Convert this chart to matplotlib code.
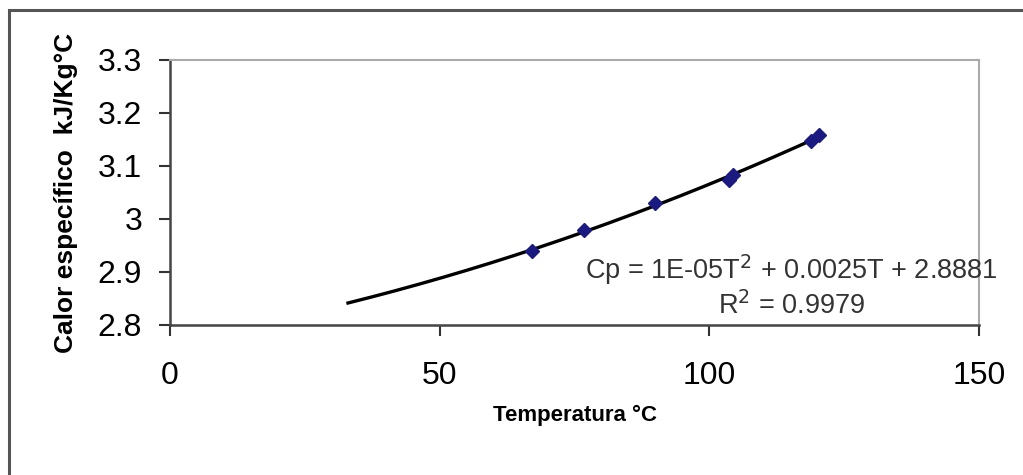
import numpy as np
import matplotlib
matplotlib.use("Agg")
import matplotlib.pyplot as plt
from matplotlib.patches import Rectangle

# temperature (°C) and specific heat (kJ/Kg°C)
temps = [67.2, 76.7, 90.0, 103.6, 104.4, 118.8, 120.3]
cp = [2.939, 2.979, 3.031, 3.073, 3.083, 3.148, 3.158]
trend_start = 33.0

x_ticks = [0, 50, 100, 150]
y_ticks = [2.8, 2.9, 3.0, 3.1, 3.2, 3.3]
y_tick_labels = ["2.8", "2.9", "3", "3.1", "3.2", "3.3"]

plt.rcParams["font.family"] = ["Liberation Sans", "DejaVu Sans"]

fig = plt.figure(figsize=(10.23, 4.75), dpi=100)
ax = fig.add_axes([0.1662, 0.3158, 0.957 - 0.1662, 0.8737 - 0.3158])

# outer chart frame (runs off the right and bottom edges)
fig.patches.append(Rectangle((9 / 1023, -0.1), 1.2, (475 - 10) / 475 + 0.1,
                             transform=fig.transFigure, fill=False,
                             edgecolor="#555555", linewidth=2.2))

coef = np.polyfit(temps, cp, 2)
tt = np.linspace(trend_start, max(temps), 200)
ax.plot(tt, np.polyval(coef, tt), color="black", linewidth=2.4, zorder=2)
ax.plot(temps, cp, linestyle="none", marker="D", markersize=7.5,
        color="#1a1a80", zorder=3)

ax.set_xlim(0, 150)
ax.set_ylim(2.8, 3.3)
ax.set_xticks(x_ticks)
ax.set_yticks(y_ticks)
ax.set_yticklabels(y_tick_labels)
ax.tick_params(axis="both", direction="out", length=8, width=1.5,
               labelsize=23, color="#333333")
ax.tick_params(axis="x", pad=18)
ax.tick_params(axis="y", pad=12)

for side in ["left", "bottom"]:
    ax.spines[side].set_color("#444444")
    ax.spines[side].set_linewidth(1.8)
for side in ["top", "right"]:
    ax.spines[side].set_color("#aaaaaa")
    ax.spines[side].set_linewidth(1.5)

ax.set_xlabel("Temperatura °C", fontsize=16, fontweight="bold", labelpad=10)
ax.set_ylabel("Calor específico  kJ/Kg°C", fontsize=19, fontweight="bold",
              labelpad=14)

ax.text(0.768, 0.147, "Cp = 1E-05T$^2$ + 0.0025T + 2.8881\nR$^2$ = 0.9979",
        transform=ax.transAxes, ha="center", va="center", fontsize=19.5,
        color="#333333", linespacing=1.2, multialignment="center")

fig.savefig("out.png", dpi=100)
